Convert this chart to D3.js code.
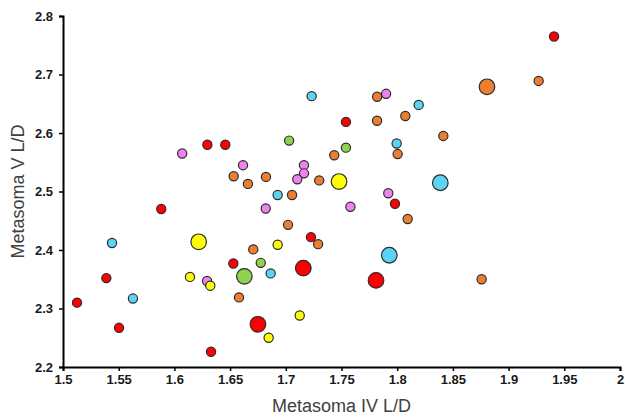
<!DOCTYPE html>
<html>
<head>
<meta charset="utf-8">
<script src="https://cdn.jsdelivr.net/npm/d3@7"></script>
<style>
  body { margin: 0; background: #fff; }
  .tick text { font-family: "Liberation Sans", Arial, sans-serif; font-weight: bold; font-size: 13px; fill: #1a1a1a; }
  .axisTitle { font-family: "Liberation Sans", Arial, sans-serif; font-size: 18px; fill: #404040; }
</style>
</head>
<body>
<div id="scatter"></div>
<script>
// Metasoma IV L/D (x), Metasoma V L/D (y), group colour, large marker flag
var metasomaIV = [
  1.5126, 1.5389, 1.5503, 1.5882, 1.6296, 1.6457, 1.6329, 1.6529, 1.6750, 1.7157, 1.7226, 1.7540, 1.7810, 1.7980, 1.9408,
  1.6532, 1.6660, 1.6822, 1.7056, 1.7300, 1.7020, 1.7290, 1.6708, 1.6580, 1.7435, 1.7820, 1.7819, 1.8073, 1.8004, 1.8414, 1.8094, 1.8758, 1.9270, 1.8806,
  1.6070, 1.6616, 1.7163, 1.7163, 1.7103, 1.6820, 1.6293, 1.7900, 1.7920, 1.7580,
  1.7232, 1.8193, 1.7995, 1.6927, 1.5440, 1.5628, 1.6864, 1.8387, 1.7929,
  1.6218, 1.7478, 1.6927, 1.6140, 1.6322, 1.7125, 1.6846,
  1.7030, 1.7540, 1.6775, 1.6628
];
var metasomaV = [
  2.310, 2.352, 2.267, 2.470, 2.580, 2.580, 2.226, 2.377, 2.273, 2.369, 2.422, 2.619, 2.348, 2.479, 2.765,
  2.526, 2.513, 2.525, 2.494, 2.519, 2.443, 2.410, 2.401, 2.319, 2.562, 2.662, 2.621, 2.629, 2.564, 2.595, 2.453, 2.350, 2.689, 2.679,
  2.565, 2.545, 2.545, 2.531, 2.521, 2.471, 2.347, 2.667, 2.497, 2.474,
  2.663, 2.648, 2.582, 2.494, 2.412, 2.317, 2.360, 2.515, 2.391,
  2.414, 2.517, 2.409, 2.354, 2.339, 2.288, 2.250,
  2.587, 2.575, 2.378, 2.355
];
var groups = [
  "red","red","red","red","red","red","red","red","red","red","red","red","red","red","red",
  "orange","orange","orange","orange","orange","orange","orange","orange","orange","orange","orange","orange","orange","orange","orange","orange","orange","orange","orange",
  "violet","violet","violet","violet","violet","violet","violet","violet","violet","violet",
  "blue","blue","blue","blue","blue","blue","blue","blue","blue",
  "yellow","yellow","yellow","yellow","yellow","yellow","yellow",
  "green","green","green","green"
];
var large = [
  0,0,0,0,0,0,0,0,1,1,0,0,1,0,0,
  0,0,0,0,0,0,0,0,0,0,0,0,0,0,0,0,0,0,1,
  0,0,0,0,0,0,0,0,0,0,
  0,0,0,0,0,0,0,1,1,
  1,1,0,0,0,0,0,
  0,0,0,1
];
var groupNames = ["red", "orange", "violet", "blue", "yellow", "green"];
var groupColors = ["#ff0000", "#ed7d31", "#ee82ee", "#5bd3f5", "#ffff00", "#92d050"];
var xTicks = [1.5, 1.55, 1.6, 1.65, 1.7, 1.75, 1.8, 1.85, 1.9, 1.95, 2];
var yTicks = [2.2, 2.3, 2.4, 2.5, 2.6, 2.7, 2.8];

var svgWidth = 625, svgHeight = 417;
var margin = { top: 16, right: 5, bottom: 50, left: 63 };
var width = svgWidth - margin.left - margin.right;
var height = svgHeight - margin.top - margin.bottom;

var svg = d3.select("#scatter").append("svg")
  .attr("width", svgWidth)
  .attr("height", svgHeight);

var chartGroup = svg.append("g")
  .attr("transform", `translate(${margin.left}, ${margin.top})`);

var xScale = d3.scaleLinear().domain([1.5, 2]).range([0, width]);
var yScale = d3.scaleLinear().domain([2.2, 2.8]).range([height, 0]);
var colorScale = d3.scaleOrdinal().domain(groupNames).range(groupColors);

var data = metasomaIV.map((x, i) => ({ x: x, y: metasomaV[i], g: groups[i], big: large[i] }));

// axes
var bottomAxis = d3.axisBottom(xScale).tickValues(xTicks).tickSize(4).tickPadding(4).tickFormat(d => String(+d.toFixed(2)));
var leftAxis = d3.axisLeft(yScale).tickValues(yTicks).tickSize(4).tickPadding(6).tickFormat(d => d.toFixed(1));

var gx = chartGroup.append("g").attr("transform", `translate(0, ${height})`).call(bottomAxis);
var gy = chartGroup.append("g").call(leftAxis);
[gx, gy].forEach(function(g) {
  g.select(".domain").attr("stroke", "#000").attr("stroke-width", 2);
  g.selectAll(".tick line").attr("stroke", "#000").attr("stroke-width", 1.5);
});

// points, small first so large ones sit on top
chartGroup.selectAll("circle")
  .data(data.slice().sort((a, b) => a.big - b.big))
  .enter()
  .append("circle")
  .attr("cx", d => xScale(d.x))
  .attr("cy", d => yScale(d.y))
  .attr("r", d => d.big ? 7.8 : 4.6)
  .attr("fill", d => colorScale(d.g))
  .attr("stroke", "#2b2b2b")
  .attr("stroke-width", 1.2);

// axis titles
svg.append("text")
  .attr("class", "axisTitle")
  .attr("text-anchor", "middle")
  .attr("x", margin.left + width / 2)
  .attr("y", 412)
  .text("Metasoma IV L/D");

svg.append("text")
  .attr("class", "axisTitle")
  .attr("text-anchor", "middle")
  .attr("transform", `translate(24, ${margin.top + height / 2}) rotate(-90)`)
  .text("Metasoma V L/D");
</script>
</body>
</html>
